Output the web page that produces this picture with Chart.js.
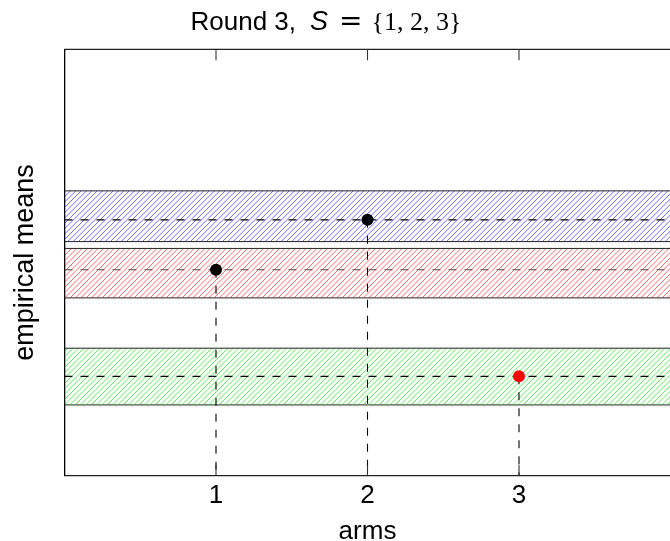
<!DOCTYPE html>
<html>
<head>
<meta charset="utf-8">
<script src="https://cdn.jsdelivr.net/npm/chart.js@4/dist/chart.umd.min.js"></script>
<style>
  html, body { margin: 0; padding: 0; background: #fff; overflow: hidden; }
  #wrap { width: 672px; height: 541px; }
</style>
</head>
<body>
<div id="wrap"><canvas id="c" width="672" height="541"></canvas></div>
<script>
// Round state
const roundNumber = 3;
const candidateSet = [1, 2, 3];
const selectedArm = 3;

// Arms and their empirical means with confidence bands
const arms = [1, 2, 3];
const empiricalMeans = [0.483, 0.600, 0.233];
const upperBounds = [0.533, 0.668, 0.299];
const lowerBounds = [0.417, 0.549, 0.166];

// Axes
const armAxisRange = [0, 4];
const meanAxisRange = [0, 1];
const armTicks = [1, 2, 3];

// Styling per arm (kept apart from the data)
const hatchColors = ['rgba(255,0,0,0.65)', 'rgba(0,0,255,0.65)', 'rgba(0,235,0,0.7)'];
const meanLineColors = ['#555', '#000', '#000'];

const SANS = '"Liberation Sans", Arial, sans-serif';
const SERIF = '"Liberation Serif", "Times New Roman", serif';

// North-east diagonal hatching tile
function hatch(color) {
  const size = 16, step = size / 3;
  const tile = document.createElement('canvas');
  tile.width = size; tile.height = size;
  const g = tile.getContext('2d');
  g.strokeStyle = color;
  g.lineWidth = 0.9;
  for (let c = -size; c <= 3 * size; c += step) {
    g.beginPath();
    g.moveTo(c - 2 * size, 2 * size);
    g.lineTo(c + size, -size);
    g.stroke();
  }
  return g.createPattern(tile, 'repeat');
}

const datasets = [];

// Hatched confidence bands
arms.forEach((arm, i) => {
  datasets.push({
    data: armAxisRange.map(x => ({ x, y: upperBounds[i] })),
    showLine: true, pointRadius: 0,
    borderColor: '#222', borderWidth: 1,
    backgroundColor: hatch(hatchColors[i]),
    fill: '+1', order: 3
  });
  datasets.push({
    data: armAxisRange.map(x => ({ x, y: lowerBounds[i] })),
    showLine: true, pointRadius: 0,
    borderColor: '#222', borderWidth: 1,
    fill: false, order: 3
  });
});

// Dashed guide lines: horizontal at each mean, vertical from each point down to the axis
arms.forEach((arm, i) => {
  datasets.push({
    data: armAxisRange.map(x => ({ x, y: empiricalMeans[i] })),
    showLine: true, pointRadius: 0,
    borderColor: meanLineColors[i], borderWidth: 1.1,
    borderDash: [8, 8], fill: false, order: 2
  });
  datasets.push({
    data: [{ x: arm, y: empiricalMeans[i] }, { x: arm, y: meanAxisRange[0] }],
    showLine: true, pointRadius: 0,
    borderColor: '#000', borderWidth: 1.1,
    borderDash: [8, 8], fill: false, order: 2
  });
});

// Empirical mean markers
datasets.push({
  data: arms.map((a, i) => ({ x: a, y: empiricalMeans[i] })),
  showLine: false,
  pointRadius: 6, pointHoverRadius: 6, pointBorderWidth: 0,
  pointBackgroundColor: arms.map(a => a === selectedArm ? '#ff0000' : '#000000'),
  order: 0
});

// Top frame line, inward tick marks, and the mixed-style title
const framePlugin = {
  id: 'frame',
  afterDraw(chart) {
    const ctx = chart.ctx;
    const { left, right, top, bottom } = chart.chartArea;
    const xs = chart.scales.x;
    ctx.save();
    ctx.strokeStyle = '#222';
    ctx.lineWidth = 1.2;
    ctx.beginPath();
    ctx.moveTo(left, top);
    ctx.lineTo(right, top);
    ctx.stroke();
    ctx.strokeStyle = '#333';
    ctx.lineWidth = 1.1;
    armTicks.forEach(v => {
      const px = xs.getPixelForValue(v);
      ctx.beginPath();
      ctx.moveTo(px, top); ctx.lineTo(px, top + 11);
      ctx.moveTo(px, bottom); ctx.lineTo(px, bottom - 11);
      ctx.stroke();
    });

    const segs = [
      { t: `Round ${roundNumber},`, f: `26px ${SANS}`, gap: 14 },
      { t: 'S', f: `italic 27px ${SANS}`, gap: 11 },
      { t: '=', f: `28px "DejaVu Serif", ${SERIF}`, gap: 9 },
      { t: `{${candidateSet.join(', ')}}`, f: `26px ${SERIF}`, gap: 0 }
    ];
    let total = 0;
    segs.forEach(s => { ctx.font = s.f; s.w = ctx.measureText(s.t).width; total += s.w + s.gap; });
    let x = 326 - total / 2;
    ctx.fillStyle = '#000';
    ctx.textBaseline = 'alphabetic';
    ctx.textAlign = 'left';
    segs.forEach(s => { ctx.font = s.f; ctx.fillText(s.t, x, 30); x += s.w + s.gap; });
    ctx.restore();
  }
};

new Chart(document.getElementById('c'), {
  type: 'scatter',
  data: { datasets },
  options: {
    responsive: false,
    devicePixelRatio: 1,
    animation: false,
    events: [],
    layout: { autoPadding: false, padding: { top: 49.3, right: 1.5, left: 0, bottom: 0 } },
    plugins: { legend: { display: false }, tooltip: { enabled: false }, title: { display: false } },
    scales: {
      x: {
        type: 'linear', position: 'bottom',
        min: armAxisRange[0], max: armAxisRange[1],
        afterBuildTicks: s => { s.ticks = armTicks.map(v => ({ value: v })); },
        grid: { display: false },
        border: { display: true, color: '#222', width: 1.2 },
        ticks: { color: '#000', padding: -3, font: { family: SANS, size: 26 }, callback: v => String(v), autoSkip: false, maxRotation: 0 },
        title: { display: true, text: 'arms', color: '#000', font: { family: SANS, size: 26, lineHeight: 0.66 }, padding: { top: 0, bottom: 1 } },
        afterFit: s => { s.height = 65.3; s.paddingLeft = 0; s.paddingRight = 0; }
      },
      y: {
        type: 'linear', position: 'left',
        min: meanAxisRange[0], max: meanAxisRange[1],
        grid: { display: false },
        border: { display: true, color: '#000', width: 1.3 },
        ticks: { display: false },
        title: { display: true, text: 'empirical means', color: '#000', font: { family: SANS, size: 27 }, padding: { top: 9, bottom: 0 } },
        afterFit: s => { s.width = 64.5; s.paddingTop = 0; s.paddingBottom = 0; }
      }
    }
  },
  plugins: [framePlugin]
});
</script>
</body>
</html>
